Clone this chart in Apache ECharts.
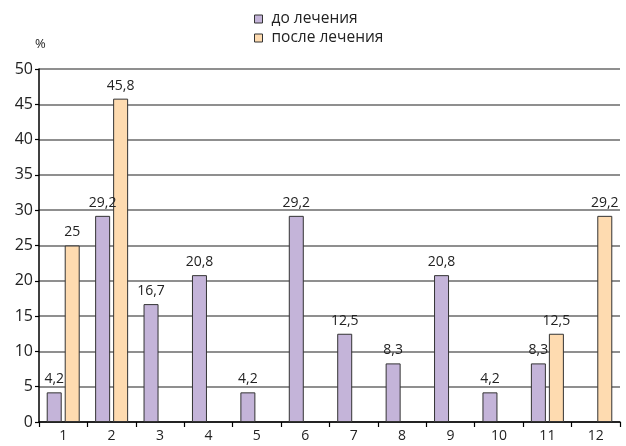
<!DOCTYPE html>
<html>
<head>
<meta charset="utf-8">
<style>
  html, body { margin: 0; padding: 0; background: #fff; }
  #chart { width: 626px; height: 446px; }
</style>
<script src="https://cdn.jsdelivr.net/npm/echarts@6/dist/echarts.min.js"></script>
</head>
<body>
<div id="chart"></div>
<script>
// Categories along the x axis
const categories = ['1', '2', '3', '4', '5', '6', '7', '8', '9', '10', '11', '12'];
// Share of patients, %, before and after treatment ('-' = no bar)
const beforeValues = [4.2, 29.2, 16.7, 20.8, 4.2, 29.2, 12.5, 8.3, 20.8, 4.2, 8.3, '-'];
const afterValues  = [25, 45.8, '-', '-', '-', '-', '-', '-', '-', '-', 12.5, 29.2];
const seriesNames = ['до лечения', 'после лечения'];
const yTicks = { min: 0, max: 50, interval: 5 };

const FONT = '"Open Sans", "Noto Sans", sans-serif';
const fmt = p => (typeof p.value === 'number' ? String(p.value).replace('.', ',') : '');

const chart = echarts.init(document.getElementById('chart'), null, { renderer: 'canvas' });

const labelCfg = {
  show: true,
  position: 'top',
  distance: 6,
  color: '#222',
  fontSize: 14,
  fontFamily: FONT,
  formatter: fmt
};

chart.setOption({
  animation: false,
  backgroundColor: '#fff',
  textStyle: { fontFamily: FONT },
  legend: {
    orient: 'vertical',
    left: 249,
    top: 6,
    itemWidth: 8,
    itemHeight: 8,
    itemGap: 3,
    icon: 'rect',
    textStyle: { fontSize: 15.5, color: '#222', fontFamily: FONT, padding: [0, 0, 0, 4] },
    itemStyle: { borderColor: '#333', borderWidth: 1 },
    data: seriesNames
  },
  grid: { left: 39, right: 6, top: 69, bottom: 24, containLabel: false },
  xAxis: {
    type: 'category',
    data: categories,
    boundaryGap: true,
    axisLine: { lineStyle: { color: '#000', width: 1.5 } },
    axisTick: { show: true, length: 5, lineStyle: { color: '#000', width: 1.2 } },
    axisLabel: { color: '#222', fontSize: 14, margin: 7, fontFamily: FONT },
    splitLine: { show: false }
  },
  yAxis: {
    type: 'value',
    min: yTicks.min,
    max: yTicks.max,
    interval: yTicks.interval,
    name: '%',
    nameLocation: 'end',
    nameGap: 18,
    nameTextStyle: { color: '#222', fontSize: 13, fontFamily: FONT, align: 'left', padding: [0, 0, 0, -4] },
    axisLine: { show: true, lineStyle: { color: '#000', width: 1.5 } },
    axisTick: { show: true, length: 4, lineStyle: { color: '#000', width: 1.2 } },
    axisLabel: { color: '#222', fontSize: 16, margin: 6, fontFamily: FONT },
    splitLine: { show: true, lineStyle: { color: '#8f8f8f', width: 2 } }
  },
  series: [
    {
      name: seriesNames[0],
      type: 'bar',
      data: beforeValues,
      barWidth: 15,
      barGap: '20%',
      itemStyle: { color: '#C4B4D9', borderColor: '#333', borderWidth: 1 },
      label: labelCfg
    },
    {
      name: seriesNames[1],
      type: 'bar',
      data: afterValues,
      barWidth: 15,
      barGap: '20%',
      itemStyle: { color: '#FEDBB0', borderColor: '#333', borderWidth: 1 },
      label: labelCfg
    }
  ]
});
</script>
</body>
</html>
